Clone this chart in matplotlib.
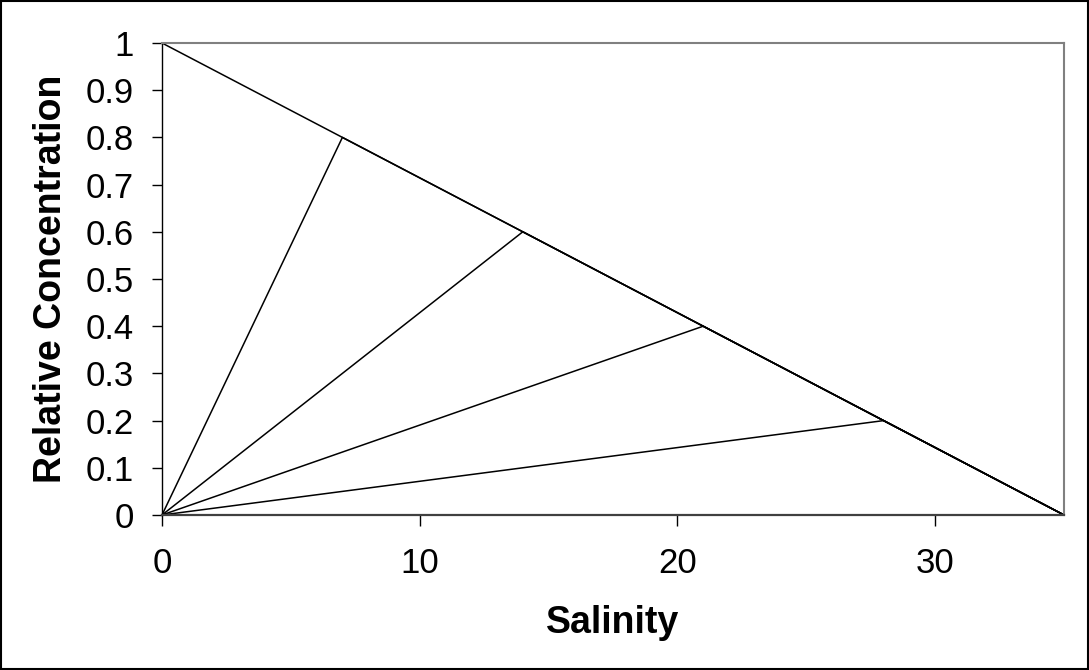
import matplotlib
matplotlib.use("Agg")
import matplotlib.pyplot as plt
from matplotlib.patches import Rectangle

plt.rcParams['font.family'] = ['Liberation Sans', 'DejaVu Sans']

# Data
conservative_x = [0, 35]
conservative_y = [1, 0]
peak_salinity = [7, 14, 21, 28]
peak_conc = [0.8, 0.6, 0.4, 0.2]
end_salinity = 35
start_salinity = 0
xticks = [0, 10, 20, 30]
yticks = [0, 0.1, 0.2, 0.3, 0.4, 0.5, 0.6, 0.7, 0.8, 0.9, 1]
ytick_labels = ['0', '0.1', '0.2', '0.3', '0.4', '0.5', '0.6', '0.7', '0.8', '0.9', '1']

fig = plt.figure(figsize=(10.89, 6.70), dpi=100)
ax = fig.add_axes([162/1089, 1 - 515/670, (1064-162)/1089, (515-43)/670])

lw = 1.1
ax.plot(conservative_x, conservative_y, color='black', lw=lw, clip_on=False)
for xs, ys in zip(peak_salinity, peak_conc):
    ax.plot([start_salinity, xs, end_salinity], [0, ys, 0], color='black', lw=lw, clip_on=False)

ax.set_xlim(0, 35)
ax.set_ylim(0, 1)
ax.set_xticks(xticks)
ax.set_xticklabels([str(t) for t in xticks])
ax.set_yticks(yticks)
ax.set_yticklabels(ytick_labels)

ax.tick_params(axis='y', direction='out', length=7.5, width=1, color='black', labelsize=25, pad=13)
ax.tick_params(axis='x', direction='out', length=8, width=1, color='black', labelsize=25, pad=15)

for s in ['top', 'right']:
    ax.spines[s].set_color('#808080')
    ax.spines[s].set_linewidth(1.5)
ax.spines['left'].set_color('black')
ax.spines['left'].set_linewidth(1)
ax.spines['bottom'].set_color('#404040')
ax.spines['bottom'].set_linewidth(1.6)

ax.set_xlabel('Salinity', fontsize=27, fontweight='bold', labelpad=18)
ax.set_ylabel('Relative Concentration', fontsize=27, fontweight='bold', labelpad=12)

fig.patches.append(Rectangle((1/1089, 1/670), 1087/1089, 668/670, transform=fig.transFigure,
                             fill=False, edgecolor='black', lw=1.5))

fig.savefig('out.png', dpi=100)
